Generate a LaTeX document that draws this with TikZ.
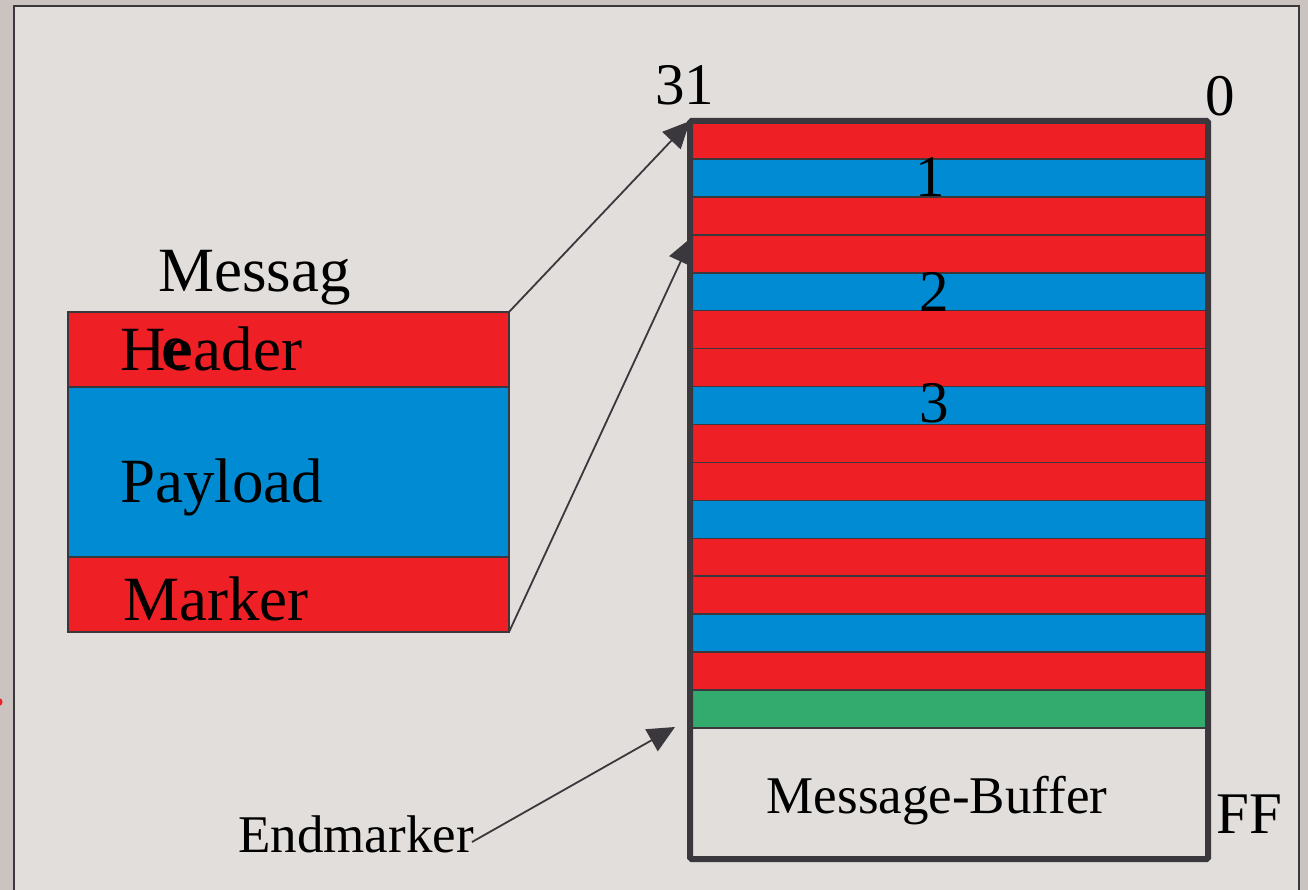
\documentclass[tikz,border=0pt]{standalone}
\usepackage{fontspec}
\setmainfont{Liberation Serif}
\usetikzlibrary{arrows.meta}
\definecolor{outerbg}{HTML}{CBC3C0}
\definecolor{panel}{HTML}{E2DEDB}
\definecolor{ink}{HTML}{3A383D}
\definecolor{fieldred}{HTML}{EE1F25}
\definecolor{fieldblue}{HTML}{008BD2}
\definecolor{fieldgreen}{HTML}{33AB6E}
\tikzset{
  field/.style={draw=ink, line width=2pt, inner sep=0pt, outer sep=0pt,
    minimum width=441pt, anchor=north west},
  bufrow/.style={draw=ink, line width=1.6pt, inner sep=0pt, outer sep=0pt,
    minimum width=518pt, minimum height=37.9375pt, anchor=north west},
  bigtxt/.style={font=\fontsize{63}{76}\selectfont, inner sep=0pt, text=black},
  midtxt/.style={font=\fontsize{53}{64}\selectfont, inner sep=0pt, text=black},
  numtxt/.style={font=\fontsize{59}{70}\selectfont, inner sep=0pt, text=black},
  conn/.style={draw=ink, line width=1.8pt, -{Triangle[length=27pt,width=25pt]}}
}
\begin{document}
\begin{tikzpicture}[x=1pt,y=-1pt]
% backdrop and framed panel
\fill[outerbg] (0,0) rectangle (1308,890);
\useasboundingbox (0,0) rectangle (1308,890);
\draw[ink, line width=2pt, fill=panel] (13.5,6.5) rectangle (1299,905);
\fill[fieldred] (0,702) ellipse (2.5 and 3.5);

% message structure on the left
\node[field, fill=fieldred,  minimum height=75pt]  (hdr) at (68,312) {};
\node[field, fill=fieldblue, minimum height=170pt] (pld) at (68,387) {};
\node[field, fill=fieldred,  minimum height=75pt]  (mkr) at (68,557) {};
\node[bigtxt, anchor=base west] (msgA) at (158,292) {Messag};
\node[bigtxt, anchor=base west] (msgB) at (161,368) {e};
\node[bigtxt, anchor=base west] (hdrt) at (120,370) {Header};
\node[bigtxt, anchor=base west] (pldt) at (120,502) {Payload};
\node[bigtxt, anchor=base west] (mkrt) at (123,620) {Marker};

% message buffer: five messages of header/payload/marker, then the end marker
\foreach \i/\c in {0/fieldred,1/fieldblue,2/fieldred,
                   3/fieldred,4/fieldblue,5/fieldred,
                   6/fieldred,7/fieldblue,8/fieldred,
                   9/fieldred,10/fieldblue,11/fieldred,
                   12/fieldred,13/fieldblue,14/fieldred,15/fieldgreen}
  \node[bufrow, fill=\c] (row\i) at (690,{121+\i*37.9375}) {};
\node[draw=ink, line width=6pt, rounded corners=1.5pt, inner sep=0pt, outer sep=0pt,
      minimum width=518pt, minimum height=738pt, anchor=north west] (buffer) at (690,121) {};

\node[numtxt, anchor=base] (n1) at (930,197) {1};
\node[numtxt, anchor=base] (n2) at (934,312) {2};
\node[numtxt, anchor=base] (n3) at (934,422) {3};
\node[numtxt, anchor=base west] (bit31) at (655,105) {31};
\node[numtxt, anchor=base] (bit0) at (1220,116) {0};
\node[numtxt, anchor=base west] (addrff) at (1216,833) {FF};
\node[midtxt, anchor=base] (buft) at (937,813) {Message-Buffer};
\node[midtxt, anchor=base west] (endt) at (238,852) {Endmarker};

% connectors
\coordinate (tip2) at (692,237);
\coordinate (endtail) at (472,842);
\coordinate (endtip) at (675,727);
\draw[conn] (hdr.north east) -- (buffer.north west);
\draw[conn] (mkr.south east) -- (tip2);
\draw[conn] (endtail) -- (endtip);
\end{tikzpicture}
\end{document}
